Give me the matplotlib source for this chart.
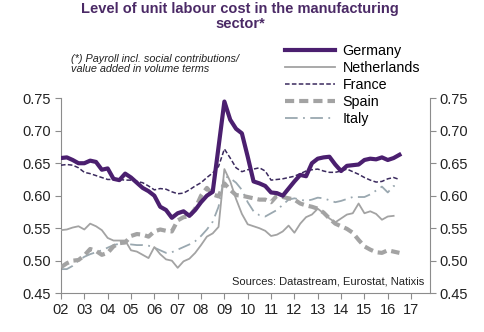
import matplotlib.pyplot as plt
import numpy as np

plt.rcParams['font.family'] = ['Liberation Sans', 'DejaVu Sans']

# quarterly data, 2002Q1 onwards
germany = [0.658, 0.659, 0.655, 0.650, 0.650, 0.654, 0.652, 0.640, 0.642, 0.626,
           0.624, 0.634, 0.628, 0.620, 0.612, 0.607, 0.600, 0.583, 0.578, 0.566,
           0.573, 0.576, 0.569, 0.578, 0.590, 0.600, 0.606, 0.675, 0.745, 0.717,
           0.703, 0.696, 0.660, 0.622, 0.619, 0.615, 0.605, 0.604, 0.600, 0.611,
           0.622, 0.632, 0.630, 0.650, 0.657, 0.659, 0.660, 0.648, 0.638, 0.646,
           0.647, 0.648, 0.655, 0.657, 0.656, 0.659, 0.655, 0.658, 0.663]
netherlands = [0.547, 0.548, 0.551, 0.553, 0.548, 0.557, 0.553, 0.547, 0.535, 0.531,
               0.531, 0.531, 0.516, 0.514, 0.509, 0.504, 0.521, 0.510, 0.502, 0.500,
               0.489, 0.499, 0.503, 0.512, 0.524, 0.537, 0.542, 0.552, 0.641, 0.622,
               0.595, 0.572, 0.556, 0.553, 0.550, 0.546, 0.538, 0.540, 0.545, 0.554,
               0.543, 0.557, 0.567, 0.571, 0.580, 0.573, 0.565, 0.559, 0.565, 0.571,
               0.573, 0.588, 0.573, 0.576, 0.572, 0.563, 0.568, 0.569]
france = [0.647, 0.648, 0.647, 0.643, 0.636, 0.634, 0.631, 0.628, 0.625, 0.625,
          0.625, 0.624, 0.624, 0.622, 0.620, 0.615, 0.609, 0.611, 0.610, 0.606,
          0.603, 0.604, 0.609, 0.615, 0.620, 0.628, 0.635, 0.645, 0.672, 0.658,
          0.643, 0.637, 0.640, 0.641, 0.643, 0.638, 0.624, 0.625, 0.626, 0.628,
          0.630, 0.634, 0.638, 0.640, 0.641, 0.638, 0.636, 0.636, 0.638, 0.641,
          0.637, 0.633, 0.628, 0.624, 0.621, 0.622, 0.626, 0.628, 0.625]
spain = [0.490, 0.496, 0.500, 0.501, 0.508, 0.518, 0.515, 0.509, 0.512, 0.522,
         0.527, 0.528, 0.538, 0.541, 0.540, 0.537, 0.545, 0.548, 0.546, 0.545,
         0.562, 0.567, 0.568, 0.580, 0.600, 0.612, 0.602, 0.599, 0.619, 0.609,
         0.601, 0.600, 0.598, 0.596, 0.594, 0.594, 0.590, 0.600, 0.598, 0.596,
         0.594, 0.588, 0.585, 0.583, 0.580, 0.574, 0.565, 0.557, 0.553, 0.549,
         0.543, 0.532, 0.522, 0.517, 0.513, 0.512, 0.516, 0.514, 0.512]
italy = [0.487, 0.487, 0.492, 0.500, 0.506, 0.510, 0.513, 0.516, 0.520, 0.524,
         0.526, 0.527, 0.525, 0.524, 0.524, 0.523, 0.520, 0.516, 0.512, 0.513,
         0.517, 0.521, 0.525, 0.530, 0.538, 0.548, 0.560, 0.583, 0.630, 0.627,
         0.620, 0.609, 0.590, 0.576, 0.570, 0.568, 0.573, 0.578, 0.586, 0.594,
         0.596, 0.594, 0.592, 0.594, 0.597, 0.596, 0.593, 0.590, 0.592, 0.595,
         0.598, 0.598, 0.598, 0.602, 0.608, 0.614, 0.605, 0.615, 0.613]

years = np.arange(2002, 2018)
year_labels = ["%02d" % (y % 100) for y in years]

def qx(vals):
    return 2002 + np.arange(len(vals)) / 4.0

purple = '#4b1f6f'
gray = '#a3a3a3'
axcol = '#8c8c8c'

fig = plt.figure(figsize=(4.84, 3.32), dpi=100)
ax = fig.add_axes([0.126, 0.117, 0.762, 0.587])

ax.plot(qx(germany), germany, color=purple, lw=3.0, label='Germany', zorder=6)
ax.plot(qx(netherlands), netherlands, color=gray, lw=1.3, label='Netherlands', zorder=3)
ax.plot(qx(france), france, color='#3b2a5e', lw=1.1, ls=(0, (3, 1.5)), label='France', zorder=5)
ax.plot(qx(spain), spain, color=gray, lw=3.0, ls=(0, (2.2, 1.2)), label='Spain', zorder=4)
ax.plot(qx(italy), italy, color='#9aa8b0', lw=1.3, ls=(0, (7, 3, 1, 3)), label='Italy', zorder=2)

ax.set_xlim(2002, 2017.8)
ax.set_ylim(0.45, 0.75)
ax.set_xticks(years)
ax.set_xticklabels(year_labels)
ax.set_yticks(np.arange(0.45, 0.76, 0.05))
ax.set_yticklabels(["%.2f" % v for v in np.arange(0.45, 0.76, 0.05)])

ax.spines['top'].set_visible(False)
for s in ['left', 'right', 'bottom']:
    ax.spines[s].set_color(axcol)
ax.tick_params(axis='both', colors=axcol, labelcolor='#222222', labelsize=10.5,
               length=4, direction='out')
ax.tick_params(axis='y', right=True, labelright=True, pad=3)
ax.tick_params(axis='x', pad=3)

ax.text(0.985, 0.06, 'Sources: Datastream, Eurostat, Natixis', transform=ax.transAxes,
        ha='right', va='center', fontsize=8, color='#222222')

leg = fig.legend(loc='upper left', bbox_to_anchor=(0.588, 0.866), frameon=False,
                 fontsize=10.3, handlelength=3.5, labelspacing=0.2, handletextpad=0.55,
                 borderaxespad=0, borderpad=0)

fig.text(0.496, 0.993, 'Level of unit labour cost in the manufacturing\nsector*',
         ha='center', va='top', fontsize=10.5, fontweight='bold', color='#4b2a66',
         linespacing=1.1)
fig.text(0.147, 0.838, '(*) Payroll incl. social contributions/\nvalue added in volume terms',
         ha='left', va='top', fontsize=7.8, style='italic', color='#222222',
         linespacing=1.05)

fig.savefig('out.png', dpi=100)
